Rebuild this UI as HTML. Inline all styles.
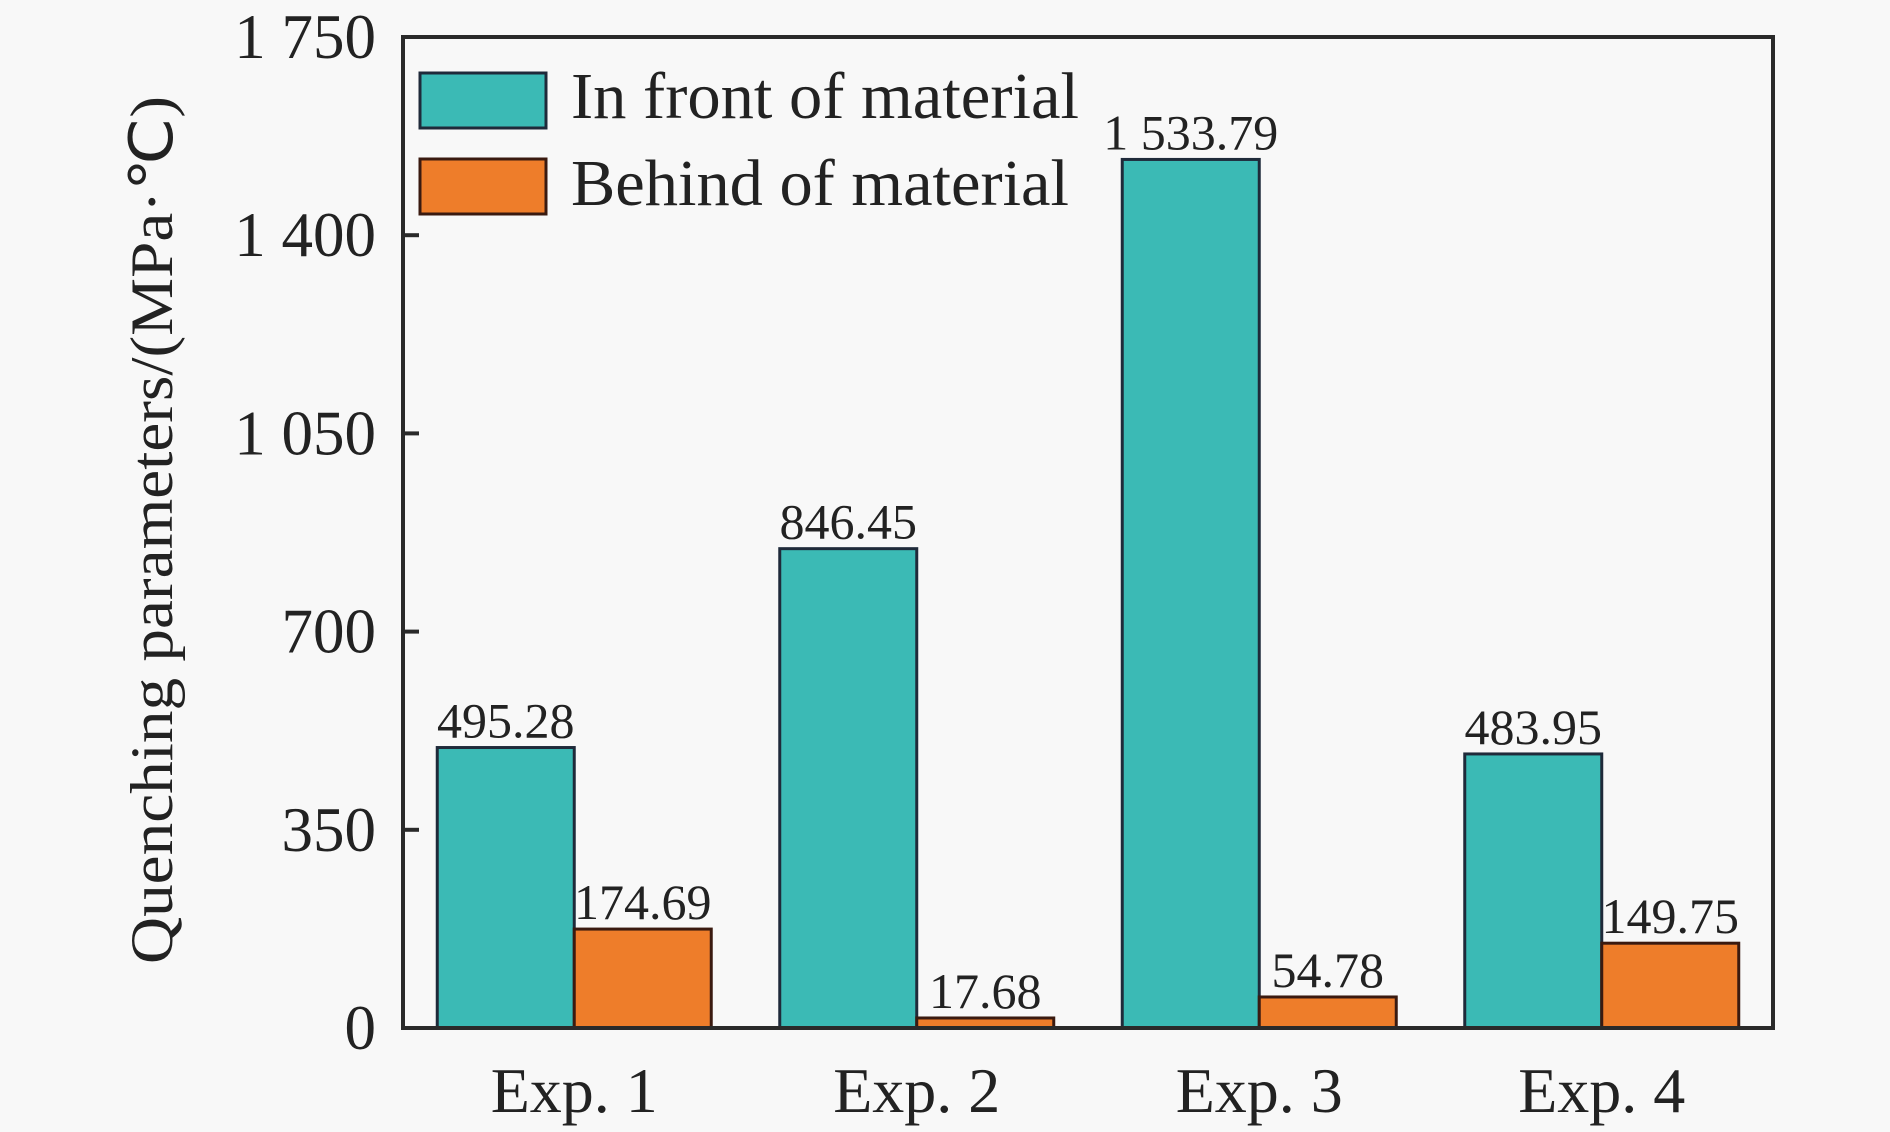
<!DOCTYPE html>
<html><head><meta charset="utf-8"><style>
html,body{margin:0;padding:0;background:#f8f8f8;}
svg{display:block;font-family:"Liberation Serif",serif;}
</style></head><body>
<svg id="chart" width="1890" height="1132" viewBox="0 0 1890 1132">
<rect width="1890" height="1132" fill="#f8f8f8"/>
<g id="marks"></g>
<rect x="403" y="37" width="1370" height="991" fill="none" stroke="#2a2a2a" stroke-width="4"/>
<g id="axes"></g>
<text x="0" y="0" transform="translate(172,530) rotate(-90)" text-anchor="middle" font-size="60" textLength="868" lengthAdjust="spacingAndGlyphs" fill="#222">Quenching parameters/(MPa·℃)</text>
<g>
<rect x="420" y="73" width="126" height="55" fill="#3bbab5" stroke="#1f2a3a" stroke-width="3"/>
<text x="571" y="118" font-size="66" textLength="508" lengthAdjust="spacingAndGlyphs" fill="#222">In front of material</text>
<rect x="420" y="159" width="126" height="55" fill="#ee7d2a" stroke="#3a1a10" stroke-width="3"/>
<text x="571" y="205" font-size="66" textLength="498" lengthAdjust="spacingAndGlyphs" fill="#222">Behind of material</text>
</g>
</svg>
<script>
const categories = ["Exp. 1","Exp. 2","Exp. 3","Exp. 4"];
const frontValues = [495.28, 846.45, 1533.79, 483.95];
const behindValues = [174.69, 17.68, 54.78, 149.75];
const frontLabels = ["495.28","846.45","1 533.79","483.95"];
const behindLabels = ["174.69","17.68","54.78","149.75"];
const yTicks = [0,350,700,1050,1400,1750];
const yTickLabels = ["0","350","700","1 050","1 400","1 750"];

const NS="http://www.w3.org/2000/svg";
const L=403,R=1773,T=37,B=1028,YMAX=1750;
const y=v=>B-(v/YMAX)*(B-T);
const band=(R-L)/categories.length;
const cx=i=>L+band*(i+0.5);
const BW=137;
function mk(tag,attrs,parent){const e=document.createElementNS(NS,tag);for(const k in attrs)e.setAttribute(k,attrs[k]);parent.appendChild(e);return e;}
const marks=document.getElementById('marks'),axes=document.getElementById('axes');
categories.forEach((c,i)=>{
  const f=mk('rect',{x:cx(i)-BW,y:y(frontValues[i]),width:BW,height:B-y(frontValues[i]),fill:'#3bbab5',stroke:'#1f2a3a','stroke-width':3},marks);
  
  
  const b=mk('rect',{x:cx(i),y:y(behindValues[i]),width:BW,height:B-y(behindValues[i]),fill:'#ee7d2a',stroke:'#3a1a10','stroke-width':3},marks);
  
  
  const ft=mk('text',{x:cx(i)-BW/2,y:y(frontValues[i])-10,'text-anchor':'middle','font-size':50,fill:'#222'},marks);
  ft.textContent=frontLabels[i];
  
  
  const bt=mk('text',{x:cx(i)+BW/2,y:y(behindValues[i])-10,'text-anchor':'middle','font-size':50,fill:'#222'},marks);
  bt.textContent=behindLabels[i];
  
  
  const xl=mk('text',{x:cx(i),y:1112,'text-anchor':'middle','font-size':64,fill:'#222'},axes);
  xl.textContent=c;
  
  
});
yTicks.forEach((v,i)=>{
  const t=mk('line',{x1:L,x2:L+16,y1:y(v),y2:y(v),stroke:'#2a2a2a','stroke-width':4},axes);
  
  
  const lb=mk('text',{x:376,y:y(v)+21,'text-anchor':'end','font-size':63,fill:'#222'},axes);
  lb.textContent=yTickLabels[i];
  
  
});
</script>
</body></html>
